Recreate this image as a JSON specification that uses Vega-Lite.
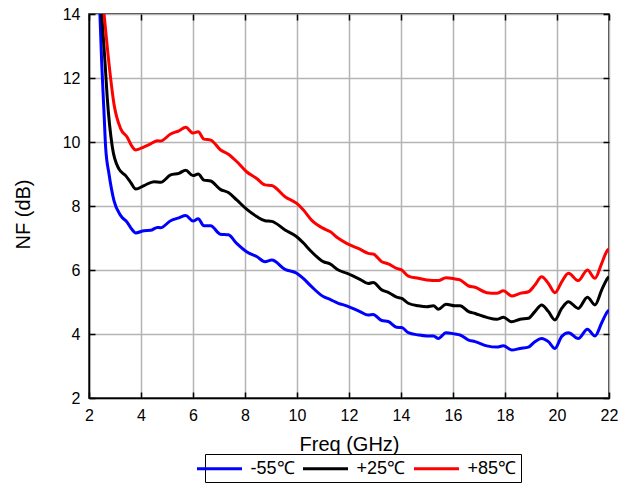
{
  "$schema": "https://vega.github.io/schema/vega-lite/v6.json",
  "width": 520,
  "height": 384,
  "autosize": {"type": "none"},
  "padding": {"left": 89, "top": 14, "right": 21, "bottom": 88},
  "background": "white",
  "config": {
    "font": "Liberation Sans",
    "view": {"stroke": "black", "strokeWidth": 1.5},
    "axis": {
      "labelFont": "Liberation Sans",
      "labelFontSize": 16,
      "labelColor": "black",
      "labelFlush": false,
      "titleFont": "Liberation Sans",
      "titleFontSize": 20,
      "titleFontWeight": "normal",
      "titleColor": "black",
      "domainColor": "black",
      "domainWidth": 1.5,
      "tickColor": "black",
      "tickWidth": 1.5,
      "tickSize": -6,
      "gridColor": "#b4b4b4",
      "gridWidth": 1.5,
      "gridOpacity": 1
    }
  },
  "data": {
    "values": [
      {"f": 2.42, "nf": 14.0, "t": "-55℃"},
      {"f": 2.49, "nf": 12.44, "t": "-55℃"},
      {"f": 2.58, "nf": 10.88, "t": "-55℃"},
      {"f": 2.64, "nf": 9.83, "t": "-55℃"},
      {"f": 2.77, "nf": 9.0, "t": "-55℃"},
      {"f": 2.96, "nf": 8.17, "t": "-55℃"},
      {"f": 3.22, "nf": 7.70, "t": "-55℃"},
      {"f": 3.47, "nf": 7.49, "t": "-55℃"},
      {"f": 3.64, "nf": 7.28, "t": "-55℃"},
      {"f": 3.80, "nf": 7.16, "t": "-55℃"},
      {"f": 4.12, "nf": 7.23, "t": "-55℃"},
      {"f": 4.37, "nf": 7.24, "t": "-55℃"},
      {"f": 4.63, "nf": 7.33, "t": "-55℃"},
      {"f": 4.75, "nf": 7.32, "t": "-55℃"},
      {"f": 5.14, "nf": 7.54, "t": "-55℃"},
      {"f": 5.46, "nf": 7.63, "t": "-55℃"},
      {"f": 5.72, "nf": 7.70, "t": "-55℃"},
      {"f": 6.0, "nf": 7.53, "t": "-55℃"},
      {"f": 6.2, "nf": 7.60, "t": "-55℃"},
      {"f": 6.42, "nf": 7.38, "t": "-55℃"},
      {"f": 6.68, "nf": 7.38, "t": "-55℃"},
      {"f": 7.05, "nf": 7.12, "t": "-55℃"},
      {"f": 7.36, "nf": 7.10, "t": "-55℃"},
      {"f": 7.68, "nf": 6.83, "t": "-55℃"},
      {"f": 8.06, "nf": 6.57, "t": "-55℃"},
      {"f": 8.45, "nf": 6.42, "t": "-55℃"},
      {"f": 8.77, "nf": 6.26, "t": "-55℃"},
      {"f": 9.03, "nf": 6.31, "t": "-55℃"},
      {"f": 9.54, "nf": 6.02, "t": "-55℃"},
      {"f": 9.99, "nf": 5.90, "t": "-55℃"},
      {"f": 10.24, "nf": 5.74, "t": "-55℃"},
      {"f": 10.56, "nf": 5.48, "t": "-55℃"},
      {"f": 11.01, "nf": 5.17, "t": "-55℃"},
      {"f": 11.27, "nf": 5.08, "t": "-55℃"},
      {"f": 11.59, "nf": 4.96, "t": "-55℃"},
      {"f": 11.91, "nf": 4.88, "t": "-55℃"},
      {"f": 12.42, "nf": 4.70, "t": "-55℃"},
      {"f": 12.74, "nf": 4.59, "t": "-55℃"},
      {"f": 12.93, "nf": 4.61, "t": "-55℃"},
      {"f": 13.26, "nf": 4.42, "t": "-55℃"},
      {"f": 13.51, "nf": 4.39, "t": "-55℃"},
      {"f": 13.83, "nf": 4.21, "t": "-55℃"},
      {"f": 14.03, "nf": 4.20, "t": "-55℃"},
      {"f": 14.28, "nf": 4.04, "t": "-55℃"},
      {"f": 14.67, "nf": 3.97, "t": "-55℃"},
      {"f": 14.99, "nf": 3.94, "t": "-55℃"},
      {"f": 15.25, "nf": 3.94, "t": "-55℃"},
      {"f": 15.44, "nf": 3.86, "t": "-55℃"},
      {"f": 15.73, "nf": 4.04, "t": "-55℃"},
      {"f": 16.08, "nf": 4.00, "t": "-55℃"},
      {"f": 16.27, "nf": 3.97, "t": "-55℃"},
      {"f": 16.6, "nf": 3.81, "t": "-55℃"},
      {"f": 16.85, "nf": 3.76, "t": "-55℃"},
      {"f": 17.30, "nf": 3.63, "t": "-55℃"},
      {"f": 17.68, "nf": 3.59, "t": "-55℃"},
      {"f": 17.94, "nf": 3.63, "t": "-55℃"},
      {"f": 18.26, "nf": 3.50, "t": "-55℃"},
      {"f": 18.58, "nf": 3.55, "t": "-55℃"},
      {"f": 18.90, "nf": 3.59, "t": "-55℃"},
      {"f": 19.15, "nf": 3.76, "t": "-55℃"},
      {"f": 19.41, "nf": 3.86, "t": "-55℃"},
      {"f": 19.67, "nf": 3.76, "t": "-55℃"},
      {"f": 19.92, "nf": 3.55, "t": "-55℃"},
      {"f": 20.18, "nf": 3.92, "t": "-55℃"},
      {"f": 20.44, "nf": 4.04, "t": "-55℃"},
      {"f": 20.82, "nf": 3.86, "t": "-55℃"},
      {"f": 21.17, "nf": 4.15, "t": "-55℃"},
      {"f": 21.46, "nf": 3.94, "t": "-55℃"},
      {"f": 21.72, "nf": 4.35, "t": "-55℃"},
      {"f": 21.94, "nf": 4.70, "t": "-55℃"},
      {"f": 22.0, "nf": 4.75, "t": "-55℃"},

      {"f": 2.49, "nf": 14.0, "t": "+25℃"},
      {"f": 2.62, "nf": 12.44, "t": "+25℃"},
      {"f": 2.70, "nf": 11.40, "t": "+25℃"},
      {"f": 2.90, "nf": 9.83, "t": "+25℃"},
      {"f": 3.15, "nf": 9.16, "t": "+25℃"},
      {"f": 3.41, "nf": 8.95, "t": "+25℃"},
      {"f": 3.60, "nf": 8.74, "t": "+25℃"},
      {"f": 3.80, "nf": 8.53, "t": "+25℃"},
      {"f": 4.12, "nf": 8.64, "t": "+25℃"},
      {"f": 4.50, "nf": 8.76, "t": "+25℃"},
      {"f": 4.76, "nf": 8.74, "t": "+25℃"},
      {"f": 5.14, "nf": 8.97, "t": "+25℃"},
      {"f": 5.46, "nf": 9.02, "t": "+25℃"},
      {"f": 5.72, "nf": 9.12, "t": "+25℃"},
      {"f": 6.0, "nf": 8.95, "t": "+25℃"},
      {"f": 6.2, "nf": 9.0, "t": "+25℃"},
      {"f": 6.42, "nf": 8.81, "t": "+25℃"},
      {"f": 6.68, "nf": 8.78, "t": "+25℃"},
      {"f": 7.05, "nf": 8.52, "t": "+25℃"},
      {"f": 7.36, "nf": 8.42, "t": "+25℃"},
      {"f": 7.68, "nf": 8.19, "t": "+25℃"},
      {"f": 8.06, "nf": 7.90, "t": "+25℃"},
      {"f": 8.45, "nf": 7.67, "t": "+25℃"},
      {"f": 8.77, "nf": 7.54, "t": "+25℃"},
      {"f": 9.03, "nf": 7.52, "t": "+25℃"},
      {"f": 9.54, "nf": 7.25, "t": "+25℃"},
      {"f": 9.99, "nf": 7.04, "t": "+25℃"},
      {"f": 10.24, "nf": 6.85, "t": "+25℃"},
      {"f": 10.56, "nf": 6.57, "t": "+25℃"},
      {"f": 11.01, "nf": 6.26, "t": "+25℃"},
      {"f": 11.27, "nf": 6.19, "t": "+25℃"},
      {"f": 11.59, "nf": 6.0, "t": "+25℃"},
      {"f": 11.91, "nf": 5.90, "t": "+25℃"},
      {"f": 12.42, "nf": 5.71, "t": "+25℃"},
      {"f": 12.74, "nf": 5.58, "t": "+25℃"},
      {"f": 12.93, "nf": 5.61, "t": "+25℃"},
      {"f": 13.26, "nf": 5.38, "t": "+25℃"},
      {"f": 13.51, "nf": 5.30, "t": "+25℃"},
      {"f": 13.83, "nf": 5.15, "t": "+25℃"},
      {"f": 14.03, "nf": 5.11, "t": "+25℃"},
      {"f": 14.28, "nf": 4.96, "t": "+25℃"},
      {"f": 14.67, "nf": 4.88, "t": "+25℃"},
      {"f": 14.99, "nf": 4.85, "t": "+25℃"},
      {"f": 15.25, "nf": 4.88, "t": "+25℃"},
      {"f": 15.44, "nf": 4.77, "t": "+25℃"},
      {"f": 15.73, "nf": 4.93, "t": "+25℃"},
      {"f": 16.08, "nf": 4.88, "t": "+25℃"},
      {"f": 16.27, "nf": 4.88, "t": "+25℃"},
      {"f": 16.6, "nf": 4.70, "t": "+25℃"},
      {"f": 16.85, "nf": 4.64, "t": "+25℃"},
      {"f": 17.30, "nf": 4.52, "t": "+25℃"},
      {"f": 17.68, "nf": 4.46, "t": "+25℃"},
      {"f": 17.94, "nf": 4.52, "t": "+25℃"},
      {"f": 18.26, "nf": 4.38, "t": "+25℃"},
      {"f": 18.58, "nf": 4.46, "t": "+25℃"},
      {"f": 18.90, "nf": 4.49, "t": "+25℃"},
      {"f": 19.15, "nf": 4.70, "t": "+25℃"},
      {"f": 19.41, "nf": 4.91, "t": "+25℃"},
      {"f": 19.67, "nf": 4.70, "t": "+25℃"},
      {"f": 19.92, "nf": 4.44, "t": "+25℃"},
      {"f": 20.18, "nf": 4.80, "t": "+25℃"},
      {"f": 20.44, "nf": 5.01, "t": "+25℃"},
      {"f": 20.82, "nf": 4.80, "t": "+25℃"},
      {"f": 21.17, "nf": 5.15, "t": "+25℃"},
      {"f": 21.46, "nf": 4.91, "t": "+25℃"},
      {"f": 21.72, "nf": 5.38, "t": "+25℃"},
      {"f": 21.94, "nf": 5.74, "t": "+25℃"},
      {"f": 22.0, "nf": 5.80, "t": "+25℃"},

      {"f": 2.58, "nf": 14.0, "t": "+85℃"},
      {"f": 2.77, "nf": 12.44, "t": "+85℃"},
      {"f": 2.96, "nf": 11.19, "t": "+85℃"},
      {"f": 3.22, "nf": 10.41, "t": "+85℃"},
      {"f": 3.47, "nf": 10.15, "t": "+85℃"},
      {"f": 3.64, "nf": 9.88, "t": "+85℃"},
      {"f": 3.80, "nf": 9.75, "t": "+85℃"},
      {"f": 4.12, "nf": 9.85, "t": "+85℃"},
      {"f": 4.37, "nf": 9.94, "t": "+85℃"},
      {"f": 4.63, "nf": 10.04, "t": "+85℃"},
      {"f": 4.75, "nf": 10.03, "t": "+85℃"},
      {"f": 5.14, "nf": 10.25, "t": "+85℃"},
      {"f": 5.46, "nf": 10.35, "t": "+85℃"},
      {"f": 5.72, "nf": 10.46, "t": "+85℃"},
      {"f": 6.0, "nf": 10.28, "t": "+85℃"},
      {"f": 6.2, "nf": 10.32, "t": "+85℃"},
      {"f": 6.42, "nf": 10.09, "t": "+85℃"},
      {"f": 6.68, "nf": 10.06, "t": "+85℃"},
      {"f": 7.05, "nf": 9.76, "t": "+85℃"},
      {"f": 7.36, "nf": 9.62, "t": "+85℃"},
      {"f": 7.68, "nf": 9.39, "t": "+85℃"},
      {"f": 8.06, "nf": 9.07, "t": "+85℃"},
      {"f": 8.45, "nf": 8.86, "t": "+85℃"},
      {"f": 8.77, "nf": 8.66, "t": "+85℃"},
      {"f": 9.03, "nf": 8.64, "t": "+85℃"},
      {"f": 9.54, "nf": 8.29, "t": "+85℃"},
      {"f": 9.99, "nf": 8.08, "t": "+85℃"},
      {"f": 10.24, "nf": 7.88, "t": "+85℃"},
      {"f": 10.56, "nf": 7.56, "t": "+85℃"},
      {"f": 11.01, "nf": 7.30, "t": "+85℃"},
      {"f": 11.27, "nf": 7.20, "t": "+85℃"},
      {"f": 11.59, "nf": 6.99, "t": "+85℃"},
      {"f": 11.91, "nf": 6.83, "t": "+85℃"},
      {"f": 12.42, "nf": 6.65, "t": "+85℃"},
      {"f": 12.74, "nf": 6.52, "t": "+85℃"},
      {"f": 12.93, "nf": 6.50, "t": "+85℃"},
      {"f": 13.26, "nf": 6.26, "t": "+85℃"},
      {"f": 13.51, "nf": 6.19, "t": "+85℃"},
      {"f": 13.83, "nf": 6.05, "t": "+85℃"},
      {"f": 14.03, "nf": 6.0, "t": "+85℃"},
      {"f": 14.28, "nf": 5.81, "t": "+85℃"},
      {"f": 14.67, "nf": 5.74, "t": "+85℃"},
      {"f": 14.99, "nf": 5.69, "t": "+85℃"},
      {"f": 15.44, "nf": 5.67, "t": "+85℃"},
      {"f": 15.73, "nf": 5.76, "t": "+85℃"},
      {"f": 16.08, "nf": 5.72, "t": "+85℃"},
      {"f": 16.27, "nf": 5.69, "t": "+85℃"},
      {"f": 16.6, "nf": 5.50, "t": "+85℃"},
      {"f": 16.85, "nf": 5.46, "t": "+85℃"},
      {"f": 17.30, "nf": 5.29, "t": "+85℃"},
      {"f": 17.68, "nf": 5.27, "t": "+85℃"},
      {"f": 17.94, "nf": 5.35, "t": "+85℃"},
      {"f": 18.26, "nf": 5.19, "t": "+85℃"},
      {"f": 18.58, "nf": 5.27, "t": "+85℃"},
      {"f": 18.90, "nf": 5.32, "t": "+85℃"},
      {"f": 19.15, "nf": 5.53, "t": "+85℃"},
      {"f": 19.41, "nf": 5.79, "t": "+85℃"},
      {"f": 19.67, "nf": 5.58, "t": "+85℃"},
      {"f": 19.92, "nf": 5.29, "t": "+85℃"},
      {"f": 20.18, "nf": 5.63, "t": "+85℃"},
      {"f": 20.44, "nf": 5.90, "t": "+85℃"},
      {"f": 20.82, "nf": 5.67, "t": "+85℃"},
      {"f": 21.17, "nf": 6.0, "t": "+85℃"},
      {"f": 21.46, "nf": 5.74, "t": "+85℃"},
      {"f": 21.72, "nf": 6.21, "t": "+85℃"},
      {"f": 21.94, "nf": 6.62, "t": "+85℃"},
      {"f": 22.0, "nf": 6.66, "t": "+85℃"}
    ]
  },
  "layer": [
    {
      "mark": {"type": "line", "interpolate": "monotone", "strokeWidth": 3, "clip": true},
      "encoding": {
        "x": {
          "field": "f", "type": "quantitative",
          "scale": {"domain": [2, 22], "nice": false, "zero": false},
          "axis": {"title": "Freq (GHz)", "values": [2, 4, 6, 8, 10, 12, 14, 16, 18, 20, 22], "grid": true, "labelPadding": 15, "titlePadding": 11}
        },
        "y": {
          "field": "nf", "type": "quantitative",
          "scale": {"domain": [2, 14], "nice": false, "zero": false},
          "axis": {"title": "NF (dB)", "values": [2, 4, 6, 8, 10, 12, 14], "grid": true, "labelPadding": 15, "titlePadding": 29, "titleY": 200}
        },
        "color": {
          "field": "t", "type": "nominal",
          "scale": {"domain": ["-55℃", "+25℃", "+85℃"], "range": ["#0000ff", "#000000", "#ff0000"]},
          "legend": {
            "title": null,
            "orient": "none",
            "legendX": 116,
            "legendY": 440,
            "direction": "horizontal",
            "symbolType": "M-3.5,0M-2.5,0H2.5",
            "symbolSize": 324,
            "symbolStrokeWidth": 3,
            "symbolFillColor": "transparent",
            "labelFont": "Liberation Sans",
            "labelFontSize": 18,
            "labelColor": "black",
            "labelOffset": 20.5,
            "columnPadding": -7,
            "padding": 4,
            "strokeColor": "black",
            "fillColor": "white"
          }
        }
      }
    },
    {
      "mark": {"type": "line", "interpolate": "monotone", "opacity": 0},
      "encoding": {
        "x": {
          "field": "f", "type": "quantitative",
          "scale": {"domain": [2, 22], "nice": false, "zero": false},
          "axis": {"orient": "top", "title": null, "labels": false, "grid": false, "domain": false, "values": [2, 4, 6, 8, 10, 12, 14, 16, 18, 20, 22]}
        },
        "y": {
          "field": "nf", "type": "quantitative",
          "scale": {"domain": [2, 14], "nice": false, "zero": false},
          "axis": {"orient": "right", "title": null, "labels": false, "grid": false, "domain": false, "values": [2, 4, 6, 8, 10, 12, 14]}
        },
        "detail": {"field": "t"}
      }
    }
  ],
  "resolve": {"axis": {"x": "independent", "y": "independent"}}
}
